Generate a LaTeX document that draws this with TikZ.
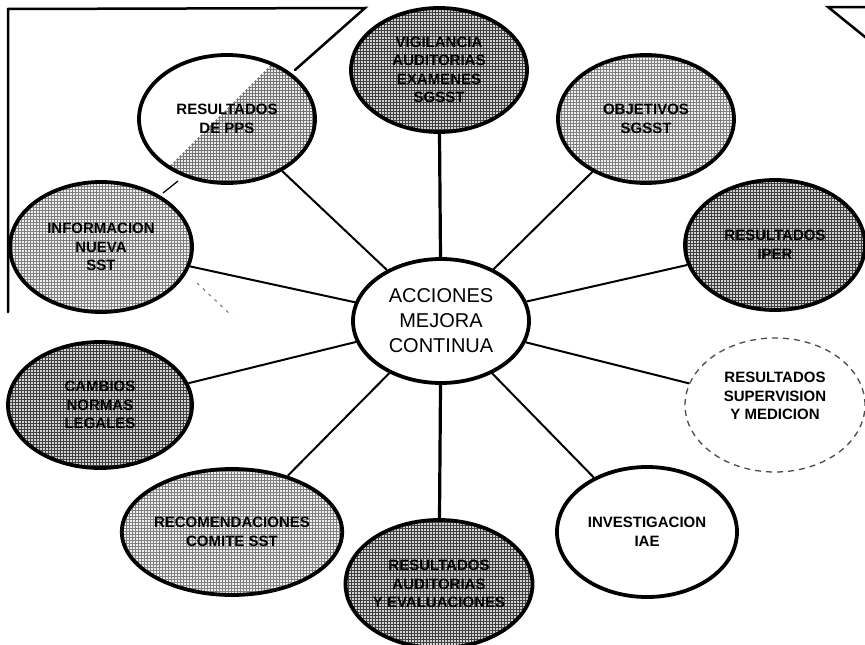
\documentclass[tikz,border=0pt]{standalone}
\usepackage{fontspec}
\setmainfont{Liberation Sans}
\usetikzlibrary{shapes.geometric,patterns}
\begin{document}
\begin{tikzpicture}[x=1pt,y=-1pt,
  bubble/.style={ellipse, draw=black, line width=3.8pt, inner sep=0pt, align=center,
    font=\fontsize{15}{18.5}\selectfont\bfseries},
  darktone/.style={preaction={fill=gray!35}, pattern=grid, pattern color=black!75},
  lighttone/.style={preaction={fill=gray!12}, pattern=grid, pattern color=black!50},
  speckle/.style={fill opacity=0.45, preaction={fill=gray!15}, pattern=grid, pattern color=black!55},
  spoke/.style={line width=2pt},
  mainspoke/.style={line width=3.2pt},
  frameline/.style={line width=2.5pt, line cap=round},
  faint/.style={line width=1pt, draw=black!55, dash pattern=on 3pt off 5pt}]

% page
\fill[white] (0,0) rectangle (865,645);
\useasboundingbox (0,0) rectangle (865,645);

% corner frame lines
\coordinate (fl) at (8,312);
\coordinate (ftl) at (8,9);
\coordinate (ftr) at (365,8);
\coordinate (fend) at (295,70);
\draw[frameline] (fl) -- (ftl) -- (ftr) -- (fend);
\coordinate (rc) at (828,7);
\coordinate (rh) at (870,7);
\coordinate (rd) at (870,41);
\draw[frameline] (rh) -- (rc) -- (rd);

% central idea
\node[bubble, fill=white, minimum width=176pt, minimum height=124pt,
      font=\fontsize{20}{25}\selectfont] (cen) at (441,321)
      {ACCIONES\\MEJORA\\CONTINUA};

% surrounding bubbles
\node[bubble, darktone, minimum width=176pt, minimum height=124pt] (vig) at (439,70)
      {VIGILANCIA\\AUDITORIAS\\EXAMENES\\SGSST};
% white bubble whose lower right side fades into the screen (coordinates relative to its centre)
\node[bubble, fill=white, minimum width=176pt, minimum height=128pt,
      path picture={
        \fill[speckle] (163,-137) -- (211,179) -- (-137,163) -- cycle;
        \fill[speckle] (186,-114) -- (211,179) -- (-114,186) -- cycle;
        \fill[speckle] (209,-91) -- (211,179) -- (-91,209) -- cycle;}] (pps) at (227,119)
      {RESULTADOS\\DE PPS};
\node[bubble, lighttone, minimum width=176pt, minimum height=128pt] (obj) at (646,119)
      {OBJETIVOS\\SGSST};
\node[bubble, darktone, minimum width=180pt, minimum height=130pt] (iper) at (775,245)
      {RESULTADOS\\IPER};
\node[bubble, lighttone, minimum width=182pt, minimum height=130pt] (info) at (101,247)
      {INFORMACION\\NUEVA\\SST};
\node[bubble, draw=black!70, line width=1.3pt, dash pattern=on 6pt off 5pt,
      minimum width=180pt, minimum height=134pt,
      label={[name=supt, align=center, yshift=9pt, font=\fontsize{15}{18.5}\selectfont\bfseries]center:RESULTADOS\\SUPERVISION\\Y MEDICION}] (sup) at (775,405) {};
\node[bubble, darktone, minimum width=184pt, minimum height=126pt] (cam) at (100,405)
      {CAMBIOS\\NORMAS\\LEGALES};
\node[bubble, lighttone, minimum width=178pt, minimum height=126pt] (rec) at (232,532)
      {RECOMENDACIONES\\COMITE SST};
\node[bubble, fill=white, minimum width=180pt, minimum height=130pt] (iae) at (647,532)
      {INVESTIGACION\\IAE};
\node[bubble, darktone, minimum width=184pt, minimum height=128pt] (bot) at (439,584)
      {RESULTADOS\\AUDITORIAS\\Y EVALUACIONES};

% spokes
\draw[mainspoke] (cen) -- (vig);
\draw[mainspoke] (cen) -- (bot);
\foreach \n in {pps,obj,iper,info,sup,cam,rec,iae}
  \draw[spoke] (cen) -- (\n);

% small dashed marks
\coordinate (da) at (163,193);
\coordinate (db) at (178,181);
\draw[line width=1.2pt] (da) -- (db);
\coordinate (dc) at (197,283);
\coordinate (dd) at (232,316);
\draw[faint] (dc) -- (dd);
\end{tikzpicture}
\end{document}
